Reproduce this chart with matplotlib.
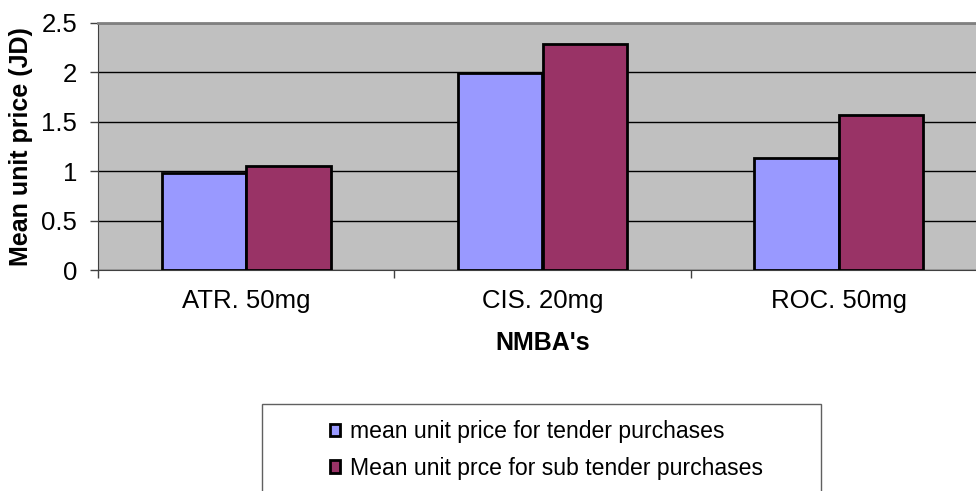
import matplotlib.pyplot as plt
from matplotlib.patches import Rectangle
import numpy as np

plt.rcParams["font.family"] = ["Liberation Sans", "DejaVu Sans"]

categories = ["ATR. 50mg", "CIS. 20mg", "ROC. 50mg"]
tender = [0.98, 1.99, 1.13]
sub_tender = [1.05, 2.29, 1.57]
series_labels = ["mean unit price for tender purchases",
                 "Mean unit prce for sub tender purchases"]
yticks = [0, 0.5, 1, 1.5, 2, 2.5]

W, H = 976, 491
fig = plt.figure(figsize=(W / 100, H / 100), dpi=100)
# plot area runs past the right edge of the figure
ax = fig.add_axes([98 / W, (H - 270) / H, (987 - 98) / W, (270 - 23) / H])

x = np.arange(len(categories))
bw = 0.285
b1 = ax.bar(x - bw / 2, tender, bw, color="#9999FF", edgecolor="black", lw=2, zorder=3)
b2 = ax.bar(x + bw / 2, sub_tender, bw, color="#993366", edgecolor="black", lw=2, zorder=3)

ax.set_facecolor("#C0C0C0")
ax.set_xlim(-0.5, len(categories) - 0.5)
ax.set_ylim(0, 2.5)
ax.set_yticks(yticks)
ax.set_yticklabels([f"{v:g}" for v in yticks])
ax.yaxis.grid(True, color="black", lw=1, zorder=1)
ax.set_axisbelow(True)

# category boundaries get the tick marks, labels sit at centres
ax.set_xticks(np.arange(len(categories) + 1) - 0.5)
ax.set_xticklabels([])
ax.set_xticks(x, minor=True)
ax.set_xticklabels(categories, minor=True)
ax.tick_params(axis="x", which="major", direction="out", length=6, width=1, color="#404040")
ax.tick_params(axis="x", which="minor", length=0, pad=14, labelsize=18.5)
ax.tick_params(axis="y", direction="out", length=6, width=1, color="#404040", labelsize=18.5, pad=9)

ax.spines["top"].set_color("#808080")
ax.spines["top"].set_linewidth(2)
ax.spines["right"].set_visible(False)
ax.spines["left"].set_color("#404040")
ax.spines["bottom"].set_color("#404040")

ax.set_xlabel("NMBA's", fontsize=18, fontweight="bold", labelpad=13)
ax.set_ylabel("Mean unit price (JD)", fontsize=18, fontweight="bold", labelpad=6)

# legend box (cut by the bottom edge)
box = Rectangle((262 / W, -0.1), (821 - 262) / W, 0.1 + (H - 404) / H,
                transform=fig.transFigure, facecolor="white", edgecolor="#606060", lw=1)
fig.patches.append(box)
fig.legend([b1, b2], series_labels, loc="upper left",
           bbox_to_anchor=(330 / W, (H - 420) / H), frameon=False, fontsize=16.6,
           borderpad=0, borderaxespad=0, handlelength=0.45, handleheight=0.45,
           handletextpad=0.4, labelspacing=0.6)

fig.savefig("out.png", dpi=100)
